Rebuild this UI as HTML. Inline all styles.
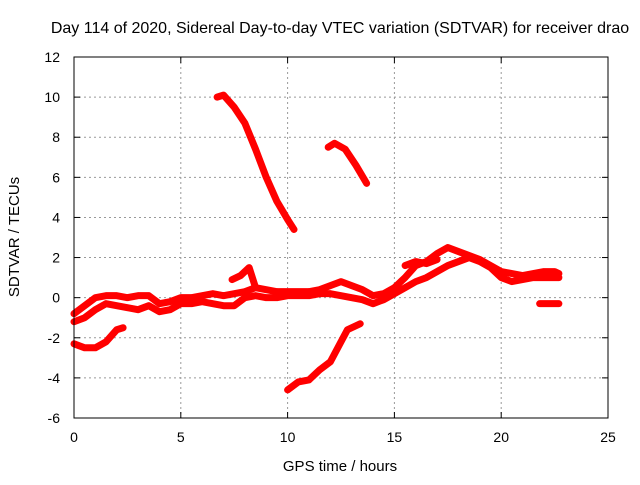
<!DOCTYPE html>
<html><head><meta charset="utf-8"><style>
body{margin:0;background:#fff;font-family:"Liberation Sans",sans-serif;}
svg text{font-family:"Liberation Sans",sans-serif;font-size:14px;fill:#000;}
</style></head><body>
<svg width="640" height="480">
<rect width="640" height="480" fill="#fff"/>
<g id="grid"></g>
<g id="plot"></g>
<rect x="74" y="57" width="534" height="361" fill="none" stroke="#000" stroke-width="1"/>
<text x="340" y="33" text-anchor="middle" style="font-size:16px">Day 114 of 2020, Sidereal Day-to-day VTEC variation (SDTVAR) for receiver drao</text>
<text x="340" y="471" text-anchor="middle" style="font-size:15px">GPS time / hours</text>
<text transform="translate(19,237) rotate(-90)" text-anchor="middle" style="font-size:15px">SDTVAR / TECUs</text>
<g id="ticks"></g>
</svg>
<script>
const xTicks=[0,5,10,15,20,25];
const yTicks=[-6,-4,-2,0,2,4,6,8,10,12];
const band1T=[0,0.5,1,1.5,2,2.5,3,3.5,4,4.5,5,5.5,6,6.5,7,7.5,8,8.5,9,9.5,10,10.5,11,11.5,12,12.5,13,13.5,14,14.5,15,15.5,16,16.5,17,17.5,18,18.5,19,19.5,20,20.5,21,21.5,22,22.5,22.7];
const band1V=[-0.8,-0.4,0,0.1,0.1,0,0.1,0.1,-0.3,-0.2,0,0,0.1,0.2,0.1,0.2,0.3,0.5,0.4,0.3,0.3,0.3,0.3,0.4,0.6,0.8,0.6,0.4,0.1,0.2,0.5,1.0,1.6,1.8,2.2,2.5,2.3,2.1,1.9,1.6,1.3,1.2,1.1,1.2,1.3,1.3,1.2];
const band2V=[-1.2,-1.0,-0.6,-0.3,-0.4,-0.5,-0.6,-0.4,-0.7,-0.6,-0.3,-0.3,-0.2,-0.3,-0.4,-0.4,0,0.1,0,0,0.1,0.1,0.1,0.2,0.2,0.1,0,-0.1,-0.3,-0.1,0.2,0.5,0.8,1.0,1.3,1.6,1.8,2.0,1.8,1.5,1.0,0.8,0.9,1.0,1.0,1.0,1.0];
const seg3T=[0,0.5,1,1.5,2,2.3], seg3V=[-2.3,-2.5,-2.5,-2.2,-1.6,-1.5];
const seg4T=[6.7,7,7.5,8,8.5,9,9.5,10,10.3], seg4V=[10,10.1,9.5,8.7,7.4,6,4.8,3.9,3.4];
const seg5T=[11.9,12.2,12.7,13.2,13.7], seg5V=[7.5,7.7,7.4,6.6,5.7];
const seg6T=[10,10.5,11,11.5,12,12.5,12.8,13.4], seg6V=[-4.6,-4.2,-4.1,-3.6,-3.2,-2.2,-1.6,-1.3];
const seg7T=[21.8,22.7], seg7V=[-0.3,-0.3];
const seg8T=[7.4,7.8,8.2,8.5], seg8V=[0.9,1.1,1.5,0.5];
const seg9T=[15.5,16,16.5,17], seg9V=[1.6,1.8,1.7,1.9];
const X=t=>74+t*534/25, Y=v=>418-(v+6)*361/18;
const NS="http://www.w3.org/2000/svg";
const grid=document.getElementById('grid'),ticks=document.getElementById('ticks'),plot=document.getElementById('plot');
function mk(tag,attrs,parent){const e=document.createElementNS(NS,tag);for(const k in attrs)e.setAttribute(k,attrs[k]);parent.appendChild(e);return e;}
xTicks.forEach(t=>{
 if(t>0&&t<25){const g=mk('line',{x1:X(t),x2:X(t),y1:57,y2:418,stroke:'#999','stroke-dasharray':'2,3'},grid);
 
 }
 mk('line',{x1:X(t),x2:X(t),y1:418,y2:412,stroke:'#000'},ticks);
 mk('line',{x1:X(t),x2:X(t),y1:57,y2:63,stroke:'#000'},ticks);
 const l=mk('text',{x:X(t),y:442,'text-anchor':'middle'},ticks);l.textContent=t;
 
 
});
yTicks.forEach(v=>{
 if(v>-6&&v<12){const g=mk('line',{x1:74,x2:608,y1:Y(v),y2:Y(v),stroke:'#999','stroke-dasharray':'2,3'},grid);
 
 }
 mk('line',{x1:74,x2:80,y1:Y(v),y2:Y(v),stroke:'#000'},ticks);
 mk('line',{x1:608,x2:602,y1:Y(v),y2:Y(v),stroke:'#000'},ticks);
 const l=mk('text',{x:60,y:Y(v)+5,'text-anchor':'end'},ticks);l.textContent=v;
 
 
});
function series(T,V,name){
 const p=mk('polyline',{points:T.map((t,i)=>X(t)+','+Y(V[i])).join(' '),fill:'none',stroke:'#f00','stroke-width':7,'stroke-linejoin':'round','stroke-linecap':'round'},plot);
 
 
}
series(band1T,band1V,'series-band-upper');
series(band1T,band2V,'series-band-lower');
series(seg3T,seg3V,'series-segment-early');
series(seg4T,seg4V,'series-segment-high');
series(seg5T,seg5V,'series-segment-mid-high');
series(seg6T,seg6V,'series-segment-low');
series(seg7T,seg7V,'series-segment-late');
series(seg8T,seg8V,'series-segment-bump');
series(seg9T,seg9V,'series-segment-rise');
</script>
</body></html>
